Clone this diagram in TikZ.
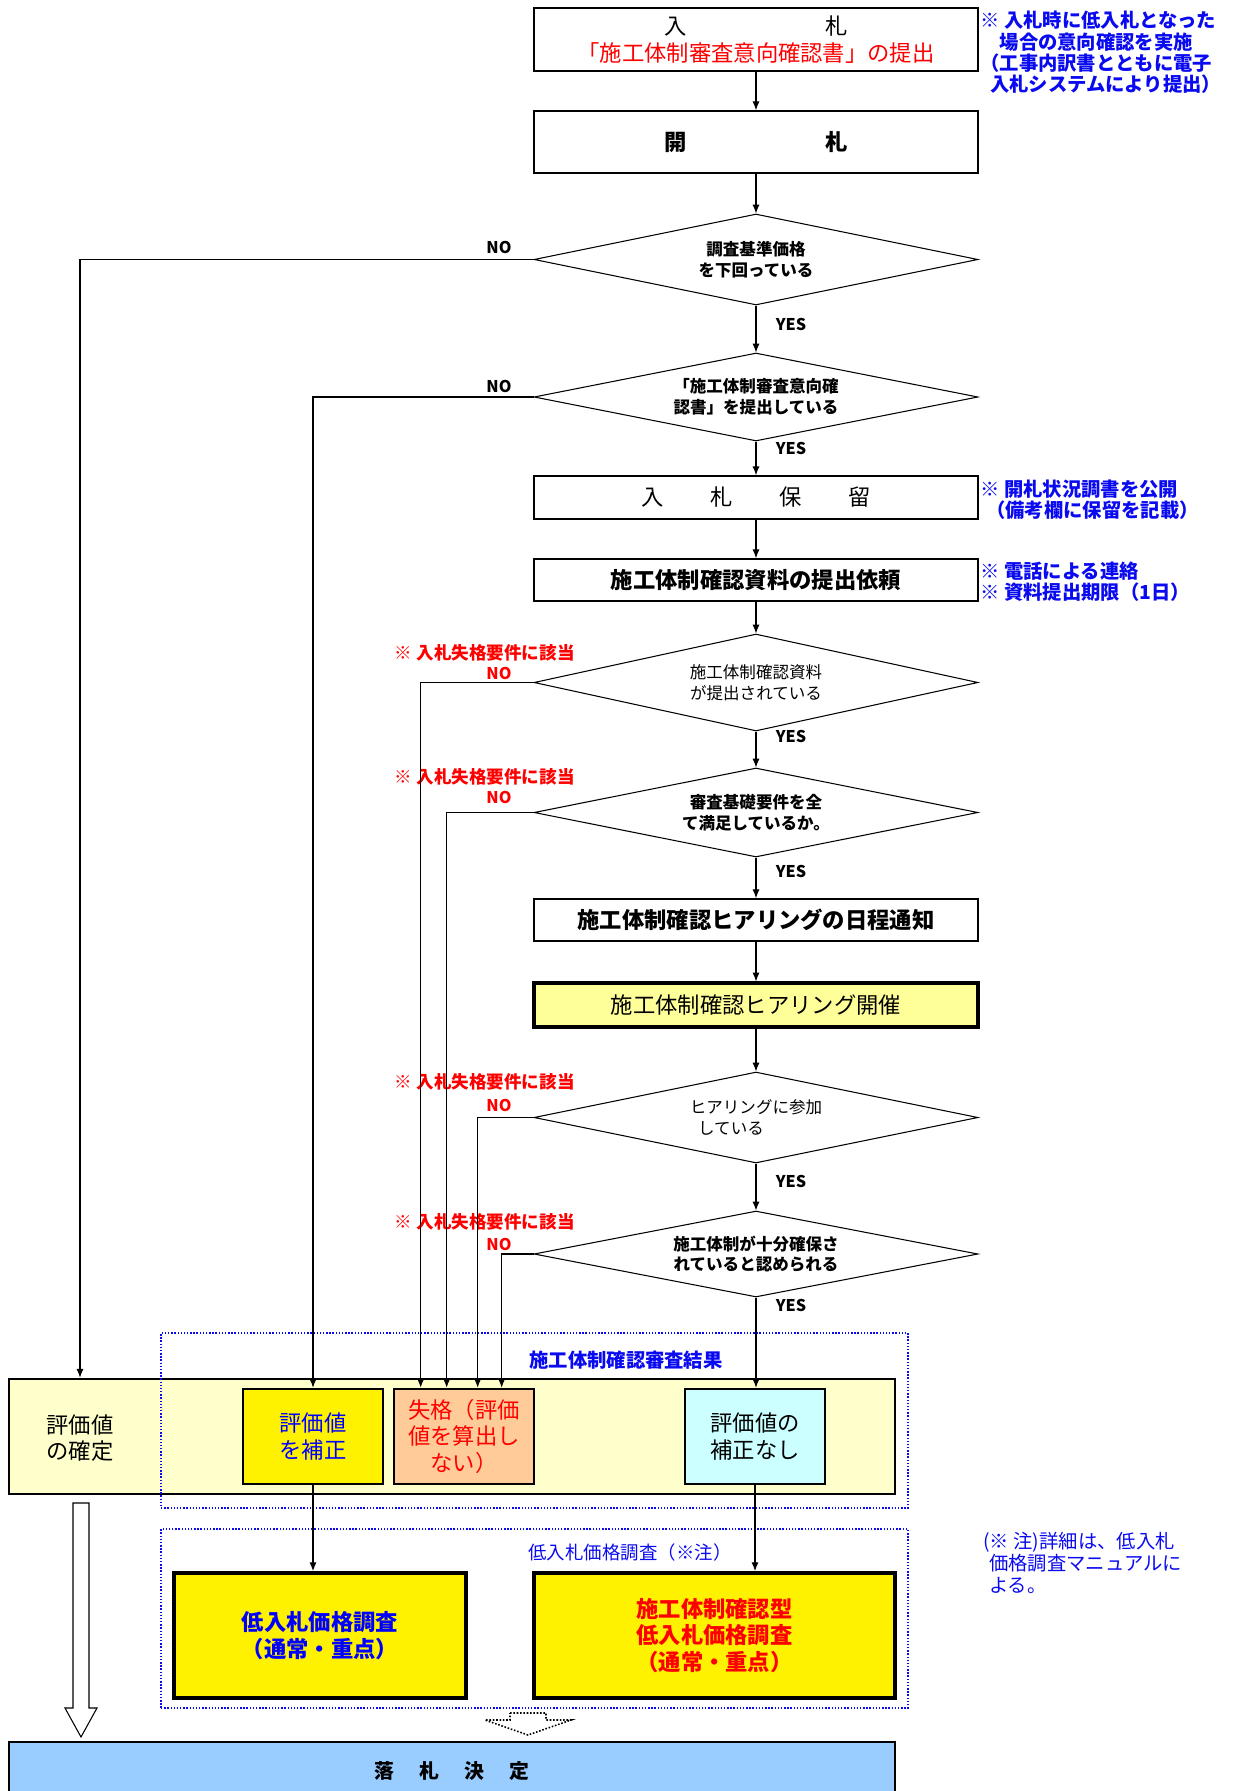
\documentclass[tikz,border=0pt]{standalone}
\usepackage{fontspec}
\setmainfont{Noto Sans CJK JP}
\usepackage{tikz}
\usetikzlibrary{shapes.geometric, arrows.meta, positioning, calc}

\definecolor{noteblue}{RGB}{10,10,240}
\definecolor{paleyellow}{RGB}{255,255,204}
\definecolor{hearyellow}{RGB}{255,255,153}
\definecolor{salmon}{RGB}{255,204,153}
\definecolor{palecyan}{RGB}{204,255,255}
\definecolor{skyblue}{RGB}{153,204,255}

\begin{document}
\begin{tikzpicture}[x=0.02cm, y=-0.02cm, >={Latex[length=5pt,width=4pt]},
    flowbox/.style={rectangle, draw, line width=0.9pt, fill=white, minimum width=8.88cm, align=center, font=\fontsize{12.7}{15}\selectfont},
    decision/.style={diamond, draw, line width=0.6pt, fill=white, minimum width=8.88cm, aspect=4.9, inner sep=0pt, align=center, font=\fontsize{9.4}{11.7}\selectfont\bfseries},
    resultbox/.style={rectangle, draw, line width=1.5pt, minimum width=2.8cm, minimum height=1.9cm, align=center, font=\fontsize{12.7}{15}\selectfont},
    surveybox/.style={rectangle, draw, line width=2.2pt, fill=yellow, minimum height=2.5cm, align=center, font=\fontsize{12.7}{15}\selectfont\bfseries},
    frame/.style={rectangle, draw=noteblue, densely dotted, line width=0.8pt, minimum width=14.94cm},
    note/.style={anchor=west, inner sep=0pt, align=left, text=noteblue, font=\fontsize{11}{12.1}\selectfont\bfseries},
    fail/.style={anchor=east, inner sep=0pt, text=red, font=\fontsize{10}{12}\selectfont\bfseries},
    answer/.style={inner sep=0pt, font=\fontsize{9.2}{11}\selectfont\bfseries},
    flow/.style={->, line width=0.6pt}]
  \useasboundingbox (0,0) rectangle (1235,1791);

  % Main column
  \node[flowbox, minimum height=1.26cm] (bid) at (756,39.5) {入\hspace{2.77cm}札\\\textcolor{red}{「施工体制審査意向確認書」の提出}};
  \node[flowbox, minimum height=1.24cm, font=\fontsize{12.7}{15}\selectfont\bfseries] (opening) at (756,142) {開\hspace{2.77cm}札};
  \node[decision, minimum height=1.82cm] (d1) at (756,259.5) {調査基準価格\\を下回っている};
  \node[decision, minimum height=1.76cm] (d2) at (756,397) {「施工体制審査意向確\\認書」を提出している};
  \node[flowbox, minimum height=0.86cm] (hold) at (756,497.5) {入\hspace{0.93cm}札\hspace{0.93cm}保\hspace{0.93cm}留};
  \node[flowbox, minimum height=0.84cm, font=\fontsize{12.7}{15}\selectfont\bfseries] (request) at (756,580) {施工体制確認資料の提出依頼};
  \node[decision, minimum height=1.94cm, font=\fontsize{9.4}{11.7}\selectfont] (d3) at (756,682.5) {施工体制確認資料\\が提出されている};
  \node[decision, minimum height=1.78cm] (d4) at (756,812.5) {審査基礎要件を全\\て満足しているか。};
  \node[flowbox, minimum height=0.84cm, font=\fontsize{12.7}{15}\selectfont\bfseries] (notice) at (756,920) {施工体制確認ヒアリングの日程通知};
  \node[flowbox, minimum height=0.88cm, fill=hearyellow, line width=1.8pt] (hearing) at (756,1005) {施工体制確認ヒアリング開催};
  \node[decision, minimum height=1.82cm, align=left, font=\fontsize{9.4}{11.7}\selectfont] (d5) at (756,1117.5) {ヒアリングに参加\\\hspace{0.5em}している};
  \node[decision, minimum height=1.72cm] (d6) at (756,1254) {施工体制が十分確保さ\\れていると認められる};

  % Notes on the right
  \node[note] (note1) at (980,52.5) {※ 入札時に低入札となった\\\hspace{1em}場合の意向確認を実施\\（工事内訳書とともに電子\\\hspace{0.5em}入札システムにより提出）};
  \node[note] (note2) at (980,499.5) {※ 開札状況調書を公開\\\hspace{0.3em}（備考欄に保留を記載）};
  \node[note] (note3) at (980,582) {※ 電話による連絡\\※ 資料提出期限（1日）};

  % Result band
  \node[rectangle, draw, line width=1.5pt, fill=paleyellow, minimum width=17.72cm, minimum height=2.3cm] (band) at (452,1436.5) {};
  \node[align=center, font=\fontsize{12.7}{15}\selectfont] (fixed) at (80,1438) {評価値\\の確定};
  \node[frame, minimum height=3.5cm] (checkframe) at (534.5,1420.5) {};
  \node[text=noteblue, font=\fontsize{11}{13}\selectfont\bfseries] (checklabel) at (626,1360) {施工体制確認審査結果};
  \node[resultbox, fill=yellow, text=blue] (revise) at (313,1436.5) {評価値\\を補正};
  \node[resultbox, fill=salmon, text=red] (disq) at (464,1436.5) {失格（評価\\値を算出し\\ない）};
  \node[resultbox, fill=palecyan] (norevise) at (755,1436.5) {評価値の\\補正なし};

  % Low bid survey
  \node[frame, minimum height=3.58cm] (surveyframe) at (534.5,1618.5) {};
  \node[text=noteblue, font=\fontsize{10.5}{12}\selectfont] (surveylabel) at (630,1552) {低入札価格調査（※注）};
  \node[surveybox, minimum width=5.84cm, text=blue] (survey) at (320,1635.5) {低入札価格調査\\（通常・重点）};
  \node[surveybox, minimum width=7.22cm, text=red] (checksurvey) at (714.5,1635.5) {施工体制確認型\\低入札価格調査\\（通常・重点）};
  \node[note, font=\fontsize{11}{12.4}\selectfont] (note4) at (983,1563) {(※ 注)詳細は、低入札\\\hspace{0.3em}価格調査マニュアルに\\\hspace{0.3em}よる。};

  % Award
  \node[rectangle, draw, line width=1.2pt, fill=skyblue, minimum width=17.72cm, minimum height=1.16cm, font=\fontsize{11.3}{13}\selectfont\bfseries] (award) at (452,1771) {落\hspace{0.5cm}札\hspace{0.5cm}決\hspace{0.5cm}定};
  \coordinate (bigtop) at (81,1503);
  \draw[line width=0.6pt, fill=white] (bigtop) ++(-8,0) -- ++(16,0) -- ++(0,205) -- ++(8,0) -- ++(-16,29) -- ++(-16,-29) -- ++(8,0) -- cycle;
  \coordinate (smalltop) at (528,1713);
  \draw[line width=0.9pt, densely dotted, fill=white] (smalltop) ++(-18,0) -- ++(36,0) -- ++(0,7) -- ++(25,0) -- ++(-43,15) -- ++(-43,-15) -- ++(25,0) -- cycle;

  % YES / NO labels
  \node[answer] (no1) at (499,247) {NO};
  \node[answer] (no2) at (499,386) {NO};
  \node[fail] (fail3) at (575,653) {※ 入札失格要件に該当};
  \node[answer, text=red] (no3) at (499,673) {NO};
  \node[fail] (fail4) at (575,777) {※ 入札失格要件に該当};
  \node[answer, text=red] (no4) at (499,797) {NO};
  \node[fail] (fail5) at (575,1082) {※ 入札失格要件に該当};
  \node[answer, text=red] (no5) at (499,1105) {NO};
  \node[fail] (fail6) at (575,1222) {※ 入札失格要件に該当};
  \node[answer, text=red] (no6) at (499,1244) {NO};
  \node[answer] (yes1) at (791,324) {YES};
  \node[answer] (yes2) at (791,448) {YES};
  \node[answer] (yes3) at (791,736) {YES};
  \node[answer] (yes4) at (791,871) {YES};
  \node[answer] (yes5) at (791,1181) {YES};
  \node[answer] (yes6) at (791,1305) {YES};

  % Arrows
  \draw[flow] (bid) -- (opening);
  \draw[flow] (opening) -- (d1);
  \draw[flow] (d1) -- (d2);
  \draw[flow] (d2) -- (hold);
  \draw[flow] (hold) -- (request);
  \draw[flow] (request) -- (d3);
  \draw[flow] (d3) -- (d4);
  \draw[flow] (d4) -- (notice);
  \draw[flow] (notice) -- (hearing);
  \draw[flow] (hearing) -- (d5);
  \draw[flow] (d5) -- (d6);
  \draw[flow] (d6.south) -- (d6.south |- norevise.north);
  \draw[flow] (d1.west) -| (fixed |- band.north);
  \draw[flow] (d2.west) -| (revise.north);
  \draw[flow] (d3.west) -| ([xshift=0.56cm]disq.north west);
  \draw[flow] (d4.west) -| ([xshift=1.08cm]disq.north west);
  \draw[flow] (d5.west) -| ([xshift=1.7cm]disq.north west);
  \draw[flow] (d6.west) -| ([xshift=2.18cm]disq.north west);
  \draw[flow] (revise.south) -- (revise.south |- survey.north);
  \draw[flow] (norevise.south) -- (norevise.south |- checksurvey.north);
\end{tikzpicture}
\end{document}
